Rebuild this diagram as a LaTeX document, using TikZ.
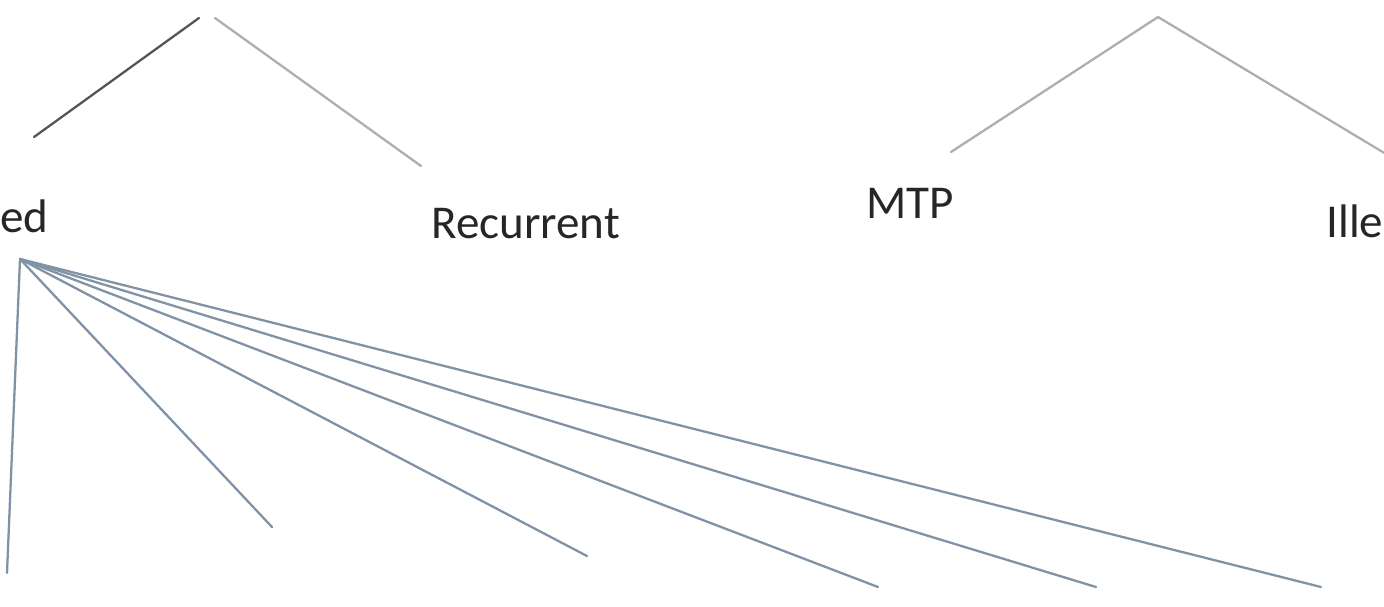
\documentclass[tikz,border=0pt]{standalone}
\usepackage{fontspec}
\setmainfont{Carlito}
\usetikzlibrary{positioning}
\definecolor{treedark}{RGB}{85,85,88}
\definecolor{treelight}{RGB}{172,174,178}
\definecolor{fanblue}{RGB}{128,146,166}

\begin{document}
\begin{tikzpicture}[
    x=0.02cm, y=-0.02cm,
    termtext/.style={inner sep=0pt, anchor=base west, text=black!85, font=\fontsize{26.8}{32}\selectfont},
    branch/.style={line width=1.3pt, line cap=round}
]
\useasboundingbox (0,0) rectangle (1384,606);

% labels
\node[termtext] (ed) at (0,232) {ed};
\node[termtext] (recurrent) at (431,238) {Recurrent};
\node[termtext] (mtp) at (866,218) {MTP};
\node[termtext] (ille) at (1326,237) {Ille};

% left tree
\coordinate (lefttopA) at (199,18);
\coordinate (lefttopB) at (215,18);
\coordinate (leftend) at (34,137);
\coordinate (recend) at (421,166);
\draw[branch, treedark] (lefttopA) -- (leftend);
\draw[branch, treelight] (lefttopB) -- (recend);

% right tree
\coordinate (righttop) at (1158,17);
\coordinate (mtpend) at (951,152);
\coordinate (illeend) at (1386,154);
\draw[branch, treelight] (righttop) -- (mtpend);
\draw[branch, treelight] (righttop) -- (illeend);

% fan below
\coordinate (fanroot) at (20,259);
\foreach \n/\x/\y in {1/7/573, 2/272/527, 3/587/556, 4/878/587, 5/1096/587, 6/1321/587} {
    \coordinate (leaf\n) at (\x,\y);
    \draw[branch, fanblue] (fanroot) -- (leaf\n);
}

\end{tikzpicture}
\end{document}
